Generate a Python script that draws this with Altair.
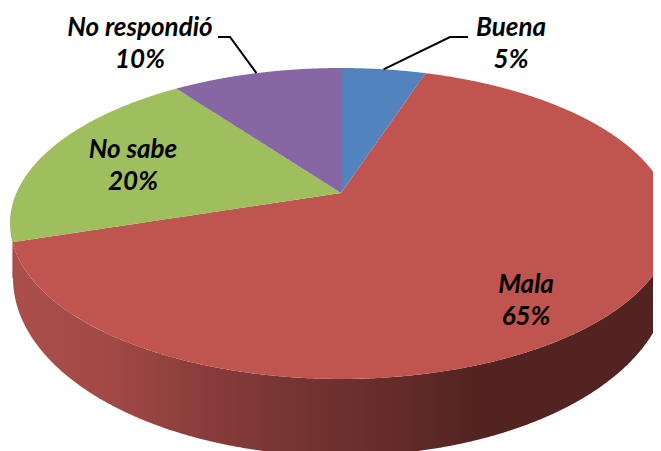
import numpy as np
import pandas as pd
import altair as alt

categories = ["Buena", "Mala", "No sabe", "No respondió"]
shares = [5, 65, 20, 10]
colors = ["#5283BE", "#C0544F", "#9FBE5E", "#8767A3"]

label_x = [511, 526, 133, 140]
label_y1 = [28, 285, 150, 28]
label_gap = 32

wall_stop_x = [12, 100, 200, 300, 400, 480, 672]
wall_stop_col = ["#A94E4B", "#A34A47", "#8A3D3B", "#743431", "#642B29", "#522320", "#522320"]

# perspective view of the pie disc
CX, CY, A, B, K = 341.0, 193.0, 324.6, 149.5, 0.196
# lower rim of the wall
RX, RCY, RRY = 328.0, 278.0, 178.0


def rim(deg):
    t = np.radians(deg)
    d = 1 + K * np.cos(t)
    return CX + A * np.sin(t) / d, CY - B * np.cos(t) / d


def columns(px, py):
    """Turn a closed outline into x / top / bottom columns for an area mark."""
    px = np.round(px, 2)
    xs = np.unique(px)
    qx, qy = np.roll(px, -1), np.roll(py, -1)
    out = []
    for x in xs:
        lo, hi = np.minimum(px, qx), np.maximum(px, qx)
        hit = (lo <= x) & (x <= hi)
        span = np.where(qx - px == 0, 1, qx - px)
        f = np.clip((x - px) / span, 0, 1)
        ys = py + f * (qy - py)
        out.append((x, ys[hit].min(), ys[hit].max()))
    return out


rows, start, mids = [], 0.0, {}
for name, share in zip(categories, shares):
    sweep = share * 3.6
    deg = np.linspace(start, start + sweep, 400)
    ax, ay = rim(deg)
    px = np.concatenate([[CX], ax])
    py = np.concatenate([[CY], ay])
    for x, top, bot in columns(px, py):
        rows.append({"slice": name, "x": x, "top": top, "bot": bot})
    mids[name] = start + sweep / 2
    start += sweep
slices = pd.DataFrame(rows)

# front wall of the red slice
deg = np.linspace(101.3, 252, 600)
wx, wy = rim(deg)
order = np.argsort(wx)
wx, wy = wx[order], wy[order]
under = RCY + RRY * np.sqrt(np.clip(1 - ((wx - CX) / RX) ** 2, 0, 1))
wall = pd.DataFrame({"x": wx, "top": wy, "bot": under})

x_scale = alt.Scale(domain=[8, 653], zero=False, nice=False)
y_scale = alt.Scale(domain=[8, 451], reverse=True, zero=False, nice=False)
X = alt.X("x:Q", scale=x_scale, axis=None)
Y = alt.Y("top:Q", scale=y_scale, axis=None, stack=None)

span = wall_stop_x[-1] - wall_stop_x[0]
gradient = alt.Gradient(
    gradient="linear", x1=0, x2=1, y1=0, y2=0,
    stops=[alt.GradientStop(offset=(x - wall_stop_x[0]) / span, color=c)
           for x, c in zip(wall_stop_x, wall_stop_col)],
)
wall_layer = alt.Chart(wall).mark_area(color=gradient, clip=True).encode(x=X, y=Y, y2="bot:Q")

slice_layer = alt.Chart(slices).mark_area(clip=True).encode(
    x=X, y=Y, y2="bot:Q",
    color=alt.Color("slice:N", scale=alt.Scale(domain=categories, range=colors), legend=None),
)

# leader lines
mid_b = rim(mids["Buena"])
mid_n = rim(mids["No respondió"])
leaders = pd.DataFrame({
    "who": ["Buena"] * 3 + ["No respondió"] * 3,
    "n": [0, 1, 2] * 2,
    "x": [468, 450, mid_b[0], 218, 230, mid_n[0]],
    "top": [37, 37, mid_b[1], 37, 37, mid_n[1]],
})
leader_layer = alt.Chart(leaders).mark_line(color="#000000", strokeWidth=2, clip=True).encode(
    x=X, y=Y, detail="who:N", order="n:Q"
)

texts = []
for name, share, lx, ly in zip(categories, shares, label_x, label_y1):
    texts.append({"x": lx, "top": ly, "t": name})
    texts.append({"x": lx, "top": ly + label_gap, "t": f"{share}%"})
text_layer = alt.Chart(pd.DataFrame(texts)).mark_text(
    font="Lato", fontSize=26, fontStyle="italic", fontWeight="bold",
    color="#000000", align="center", baseline="middle",
).encode(x=X, y=Y, text="t:N")

chart = (
    alt.layer(wall_layer, slice_layer, leader_layer, text_layer)
    .properties(width=645, height=443, padding=0, autosize=alt.AutoSizeParams(type="none"))
    .configure_view(stroke=None)
)
chart.save("out.html", embed_options={"renderer": "svg", "actions": False})
